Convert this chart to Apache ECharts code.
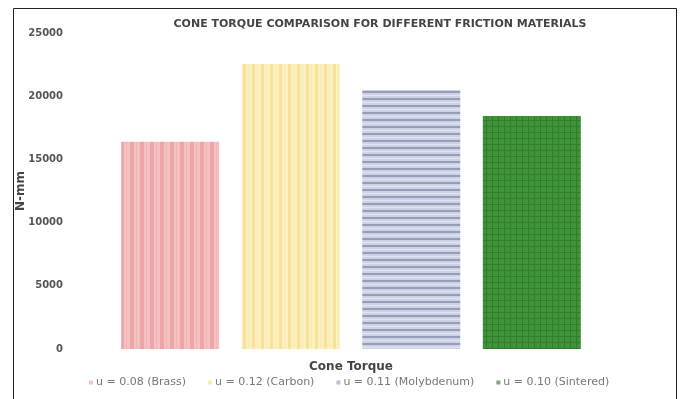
<!DOCTYPE html>
<html>
<head>
<meta charset="utf-8">
<script src="https://cdn.jsdelivr.net/npm/echarts@6/dist/echarts.min.js"></script>
<style>
  html, body { margin: 0; padding: 0; background: #fff; }
  #chart { width: 680px; height: 399px; }
</style>
</head>
<body>
<div id="chart"></div>
<script>
let categories = ['Cone Torque'];
let seriesNames = ['u = 0.08 (Brass)', 'u = 0.12 (Carbon)', 'u = 0.11 (Molybdenum)', 'u = 0.10 (Sintered)'];
let seriesValues = [16400, 22550, 20500, 18430];
let yTicks = [0, 5000, 10000, 15000, 20000, 25000];

// small canvas tiles used as bar fills
function makePattern(w, h, draw) {
  let c = document.createElement('canvas');
  c.width = w; c.height = h;
  let ctx = c.getContext('2d');
  draw(ctx, w, h);
  return { image: c, repeat: 'repeat' };
}

let patterns = [
  makePattern(10, 10, function (ctx, w, h) {
    ctx.fillStyle = '#f5c0c1'; ctx.fillRect(0, 0, w, h);
    ctx.fillStyle = '#eca6a8'; ctx.fillRect(0, 0, 4, h);
    ctx.fillStyle = '#f1b4b6'; ctx.fillRect(6, 0, 1, h);
  }),
  makePattern(9, 9, function (ctx, w, h) {
    ctx.fillStyle = '#fcefc0'; ctx.fillRect(0, 0, w, h);
    ctx.fillStyle = '#f8e29a'; ctx.fillRect(0, 0, 3, h);
    ctx.fillStyle = '#faeaae'; ctx.fillRect(5, 0, 1, h);
  }),
  makePattern(8, 7, function (ctx, w, h) {
    ctx.fillStyle = '#cdd2e6'; ctx.fillRect(0, 0, w, h);
    ctx.fillStyle = '#959db9'; ctx.fillRect(0, 0, w, 2);
    ctx.fillStyle = '#e2e5f1'; ctx.fillRect(0, 4, w, 1);
  }),
  makePattern(6, 6, function (ctx, w, h) {
    ctx.fillStyle = '#3f9338'; ctx.fillRect(0, 0, w, h);
    ctx.fillStyle = '#317d2c'; ctx.fillRect(0, 0, 1, h); ctx.fillRect(0, 0, w, 1);
  })
];
let legendColors = ['#f4c6c6', '#faeab0', '#b9bfd6', '#7fa67a'];

let myChart = echarts.init(document.getElementById('chart'));
let option = {
  animation: false,
  textStyle: { fontFamily: 'DejaVu Sans' },
  title: {
    text: 'CONE TORQUE COMPARISON FOR DIFFERENT FRICTION MATERIALS',
    left: 375,
    textAlign: 'center',
    top: 14,
    textStyle: { fontSize: 11, fontWeight: 'bold', color: '#444', fontFamily: 'DejaVu Sans' }
  },
  graphic: [{
    type: 'rect',
    shape: { x: 13.5, y: 8.5, width: 663, height: 400 },
    style: { fill: 'none', stroke: '#222', lineWidth: 1 },
    silent: true
  }],
  legend: {
    top: 372,
    left: 84,
    itemWidth: 4,
    itemHeight: 4,
    itemGap: 22,
    icon: 'rect',
    data: seriesNames.map(function (n, i) { return { name: n, itemStyle: { color: legendColors[i] } }; }),
    textStyle: { fontSize: 11, color: '#777', fontFamily: 'DejaVu Sans', padding: [0, 0, 0, -2] }
  },
  grid: { left: 81, width: 540, top: 33, bottom: 50 },
  xAxis: {
    type: 'category',
    data: categories,
    name: categories[0],
    nameLocation: 'middle',
    nameGap: 12,
    nameTextStyle: { fontSize: 12, fontWeight: 'bold', color: '#444' },
    axisLine: { show: false },
    axisTick: { show: false },
    axisLabel: { show: false }
  },
  yAxis: {
    type: 'value',
    min: yTicks[0],
    max: yTicks[yTicks.length - 1],
    interval: 5000,
    name: 'N-mm',
    nameLocation: 'middle',
    nameGap: 54,
    nameMoveOverlap: false,
    nameTextStyle: { fontSize: 12, fontWeight: 'bold', color: '#444' },
    splitLine: { show: false },
    axisLine: { show: false },
    axisTick: { show: false },
    axisLabel: {
      fontSize: 10, fontWeight: 'bold', color: '#555', margin: 18,
      formatter: function (v) { return String(v); }
    }
  },
  series: seriesNames.map(function (n, i) {
    return {
      name: n,
      type: 'bar',
      barWidth: 98,
      barGap: '23%',
      itemStyle: { color: patterns[i] },
      data: [seriesValues[i]]
    };
  })
};
myChart.setOption(option);
</script>
</body>
</html>
